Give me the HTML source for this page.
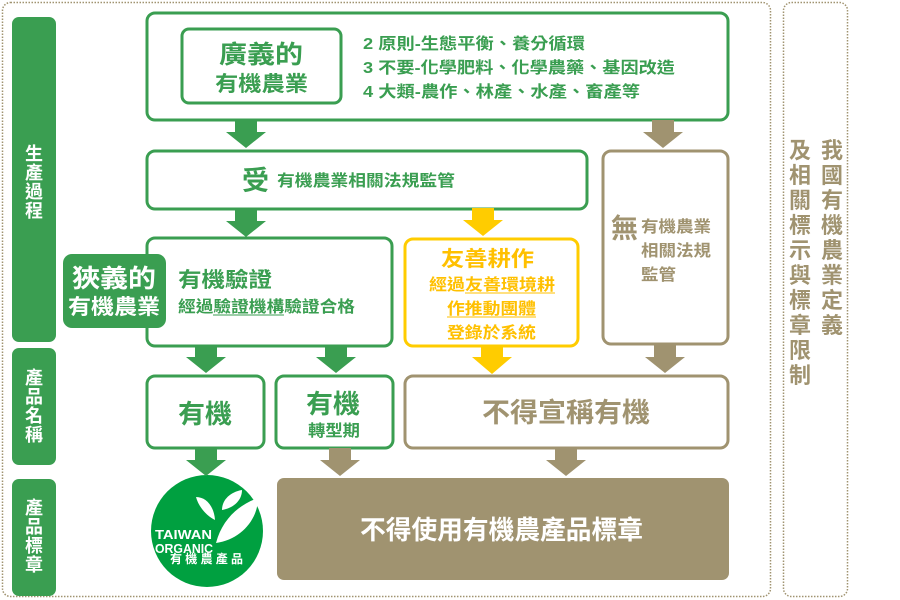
<!DOCTYPE html>
<html><head><meta charset="utf-8"><style>
html,body{margin:0;padding:0;background:#fff;}
body{width:900px;height:600px;position:relative;overflow:hidden;font-family:"Liberation Sans","Noto Sans CJK TC",sans-serif;}
svg{position:absolute;left:0;top:0;}
text{font-family:"Liberation Sans","Noto Sans CJK TC",sans-serif;font-weight:bold;}
</style></head><body>
<svg width="900" height="600" viewBox="0 0 900 600">
<rect x="2.5" y="2.5" width="768" height="594" rx="8" fill="none" stroke="#a09370" stroke-width="1.5" stroke-dasharray="1.5 1.5"/>
<rect x="783.5" y="2.5" width="64" height="594" rx="8" fill="none" stroke="#a09370" stroke-width="1.5" stroke-dasharray="1.5 1.5"/>
<rect x="12" y="17" width="44" height="325" rx="7" fill="#3a9e51"/>
<rect x="12" y="348" width="44" height="117" rx="7" fill="#3a9e51"/>
<rect x="12" y="479" width="44" height="117" rx="7" fill="#3a9e51"/>
<g fill="#fff" font-size="18" text-anchor="middle">
<text x="34" y="160">生</text><text x="34" y="179">產</text><text x="34" y="198">過</text><text x="34" y="217">程</text>
<text x="34" y="384">產</text><text x="34" y="403">品</text><text x="34" y="422">名</text><text x="34" y="441">稱</text>
<text x="34" y="514">產</text><text x="34" y="533">品</text><text x="34" y="552">標</text><text x="34" y="571">章</text>
</g>
<g fill="#a09370" font-size="22" text-anchor="middle">
<text x="832" y="158">我</text><text x="832" y="183">國</text><text x="832" y="208">有</text><text x="832" y="233">機</text><text x="832" y="258">農</text><text x="832" y="283">業</text><text x="832" y="308">定</text><text x="832" y="333">義</text>
<text x="800" y="158">及</text><text x="800" y="183">相</text><text x="800" y="208">關</text><text x="800" y="233">標</text><text x="800" y="258">示</text><text x="800" y="283">與</text><text x="800" y="308">標</text><text x="800" y="333">章</text><text x="800" y="358">限</text><text x="800" y="383">制</text>
</g>
<rect x="147" y="13" width="581" height="107" rx="8" fill="none" stroke="#3a9e51" stroke-width="3"/>
<rect x="182" y="29" width="159" height="74" rx="7" fill="none" stroke="#3a9e51" stroke-width="3"/>
<text x="219" y="63" font-size="25" fill="#3a9e51" textLength="84" lengthAdjust="spacingAndGlyphs">廣義的</text>
<text x="215" y="91" font-size="21" fill="#3a9e51" textLength="93" lengthAdjust="spacingAndGlyphs">有機農業</text>
<g fill="#3a9e51" font-size="16">
<text x="363" y="49" textLength="222" lengthAdjust="spacingAndGlyphs">2 原則-生態平衡、養分循環</text>
<text x="363" y="73" textLength="312" lengthAdjust="spacingAndGlyphs">3 不要-化學肥料、化學農藥、基因改造</text>
<text x="363" y="97" textLength="277" lengthAdjust="spacingAndGlyphs">4 大類-農作、林產、水產、畜產等</text>
</g>
<rect x="147" y="151" width="440" height="58" rx="8" fill="none" stroke="#3a9e51" stroke-width="3"/>
<text x="242" y="190" font-size="27" fill="#3a9e51">受</text>
<text x="277" y="186" font-size="16" fill="#3a9e51" textLength="178" lengthAdjust="spacingAndGlyphs">有機農業相關法規監管</text>
<rect x="603" y="151" width="125" height="193" rx="8" fill="none" stroke="#a09370" stroke-width="3"/>
<text x="611" y="238" font-size="27" fill="#a09370">無</text>
<g fill="#a09370" font-size="16"><text x="641" y="232" textLength="70" lengthAdjust="spacingAndGlyphs">有機農業</text><text x="641" y="256" textLength="70" lengthAdjust="spacingAndGlyphs">相關法規</text><text x="641" y="280" textLength="35" lengthAdjust="spacingAndGlyphs">監管</text></g>
<rect x="147" y="238" width="245" height="108" rx="8" fill="none" stroke="#3a9e51" stroke-width="3"/>
<rect x="63" y="254" width="103" height="74" rx="9" fill="#3a9e51"/>
<text x="72" y="287" font-size="25" fill="#fff" textLength="84" lengthAdjust="spacingAndGlyphs">狹義的</text>
<text x="68" y="314" font-size="21" fill="#fff" textLength="92" lengthAdjust="spacingAndGlyphs">有機農業</text>
<text x="178" y="287" font-size="21" fill="#3a9e51" textLength="94" lengthAdjust="spacingAndGlyphs">有機驗證</text>
<text x="178" y="312" font-size="16" fill="#3a9e51" textLength="177" lengthAdjust="spacingAndGlyphs">經過驗證機構驗證合格</text>
<line x1="213" y1="315" x2="284" y2="315" stroke="#3a9e51" stroke-width="1"/>
<rect x="405" y="239" width="173" height="107" rx="8" fill="none" stroke="#ffcc00" stroke-width="3"/>
<g fill="#ffc000">
<text x="441" y="266" font-size="21" textLength="93" lengthAdjust="spacingAndGlyphs">友善耕作</text>
<text x="429" y="290" font-size="16" textLength="126" lengthAdjust="spacingAndGlyphs">經過友善環境耕</text>
<text x="447" y="314" font-size="16" textLength="89" lengthAdjust="spacingAndGlyphs">作推動團體</text>
<text x="447" y="338" font-size="16" textLength="89" lengthAdjust="spacingAndGlyphs">登錄於系統</text>
</g>
<line x1="465" y1="293" x2="555" y2="293" stroke="#ffc000" stroke-width="1"/>
<line x1="447" y1="317" x2="536" y2="317" stroke="#ffc000" stroke-width="1"/>
<rect x="147" y="376" width="117" height="72" rx="8" fill="none" stroke="#3a9e51" stroke-width="3"/>
<text x="178" y="423" font-size="26" fill="#3a9e51" textLength="54" lengthAdjust="spacingAndGlyphs">有機</text>
<rect x="276" y="376" width="117" height="72" rx="8" fill="none" stroke="#3a9e51" stroke-width="3"/>
<text x="306" y="413" font-size="26" fill="#3a9e51" textLength="54" lengthAdjust="spacingAndGlyphs">有機</text>
<text x="308" y="436" font-size="16" fill="#3a9e51" textLength="52" lengthAdjust="spacingAndGlyphs">轉型期</text>
<rect x="405" y="376" width="323" height="72" rx="8" fill="none" stroke="#a09370" stroke-width="3"/>
<text x="482" y="422" font-size="27" fill="#a09370" textLength="168" lengthAdjust="spacingAndGlyphs">不得宣稱有機</text>
<rect x="277" y="478" width="452" height="102" rx="7" fill="#a09370"/>
<text x="360" y="539" font-size="26" fill="#fff" textLength="283" lengthAdjust="spacingAndGlyphs">不得使用有機農產品標章</text>
<circle cx="207" cy="531" r="56" fill="#00a040"/>
<path d="M216 543 C222 520 238 505 258 498 C258 520 240 540 216 543Z" fill="#fff"/>
<path d="M222 510 C222 500 230 492 242 490 C242 500 234 508 222 510Z" fill="#fff"/>
<path d="M215 520 C205 515 198 505 196 497 C206 497 214 506 215 520Z" fill="#fff"/>
<g fill="#fff" font-size="13"><text x="155" y="539" textLength="57" lengthAdjust="spacingAndGlyphs">TAIWAN</text><text x="155" y="553" textLength="58" lengthAdjust="spacingAndGlyphs">ORGANIC</text></g>
<text x="170" y="563" font-size="12" fill="#fff" font-weight="normal" textLength="73" lengthAdjust="spacing">有機農產品</text>
<polygon points="235,120 257,120 257,132 266,132 246,148 226,132 235,132" fill="#3a9e51"/>
<polygon points="652,120 674,120 674,132 683,132 663,148 643,132 652,132" fill="#a09370"/>
<polygon points="235,209 257,209 257,221 266,221 246,237 226,221 235,221" fill="#3a9e51"/>
<polygon points="472,208 494,208 494,220 503,220 483,236 463,220 472,220" fill="#ffcc00"/>
<polygon points="195,346 217,346 217,357 226,357 206,373 186,357 195,357" fill="#3a9e51"/>
<polygon points="325,346 347,346 347,357 356,357 336,373 316,357 325,357" fill="#3a9e51"/>
<polygon points="481,346 503,346 503,357 512,357 492,374 472,357 481,357" fill="#ffcc00"/>
<polygon points="654,344 676,344 676,357 685,357 665,373 645,357 654,357" fill="#a09370"/>
<polygon points="195,448 217,448 217,460 226,460 206,476 186,460 195,460" fill="#3a9e51"/>
<polygon points="329,448 351,448 351,460 360,460 340,476 320,460 329,460" fill="#a09370"/>
<polygon points="555,448 577,448 577,460 586,460 566,476 546,460 555,460" fill="#a09370"/>
</svg>
</body></html>
